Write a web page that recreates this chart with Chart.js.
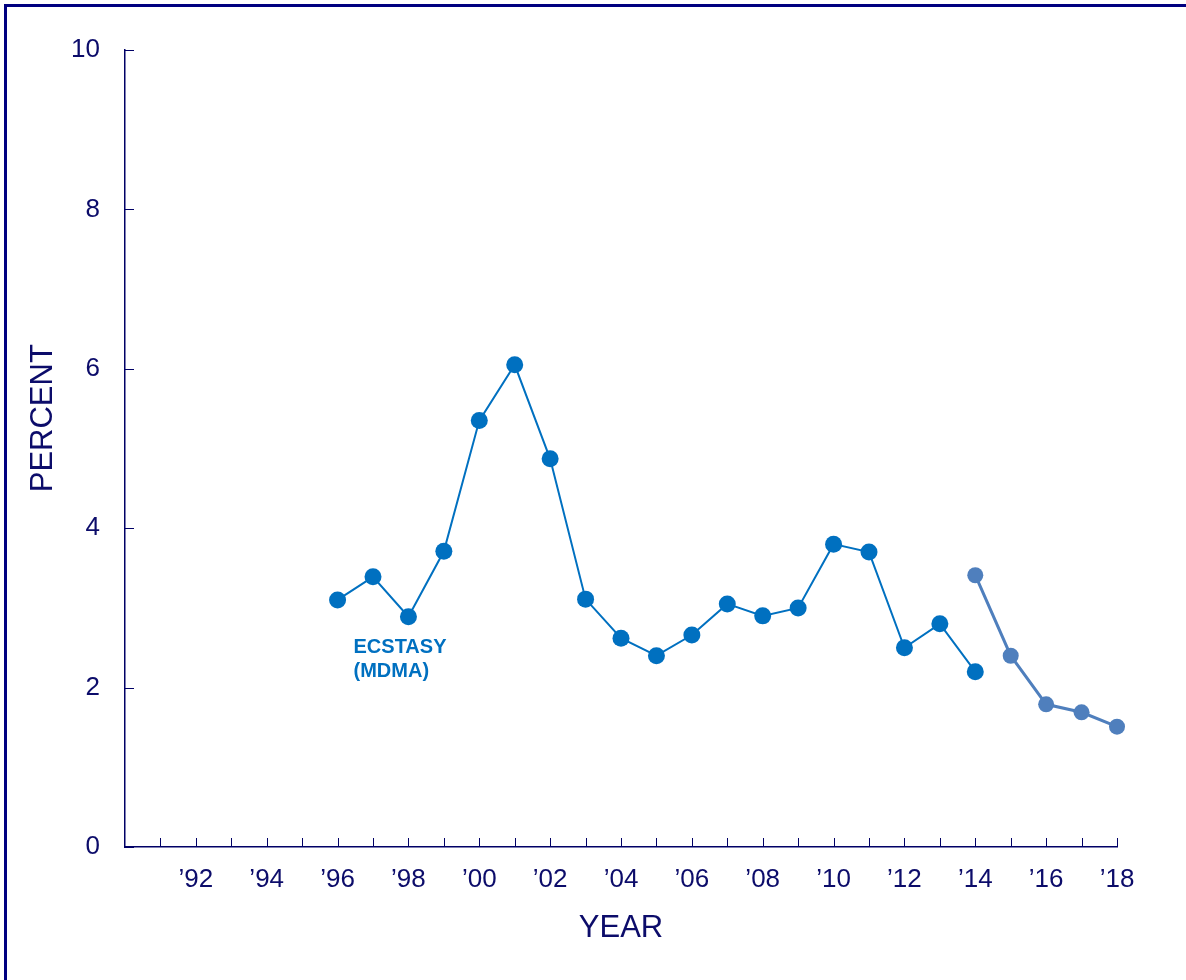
<!DOCTYPE html>
<html>
<head>
<meta charset="utf-8">
<script src="https://cdn.jsdelivr.net/npm/chart.js@4.4.0/dist/chart.umd.min.js"></script>
<style>
    html, body { margin: 0; padding: 0; background: #fff; }
    #wrap { position: relative; width: 1186px; height: 980px; overflow: hidden; }
    #frame {
        position: absolute; left: 4px; top: 4px; right: -10px; bottom: -10px;
        border-top: 3px solid #000080; border-left: 3px solid #000080;
        pointer-events: none;
    }
    canvas { position: absolute; left: 0; top: 0; }
</style>
</head>
<body>
<div id="wrap">
    <canvas id="chart" width="1186" height="980"></canvas>
    <div id="frame"></div>
</div>
<script>
// 数据
const years1 = [1996, 1997, 1998, 1999, 2000, 2001, 2002, 2003, 2004, 2005, 2006, 2007, 2008, 2009, 2010, 2011, 2012, 2013, 2014];
const ecstasy1 = [3.10, 3.39, 2.89, 3.71, 5.35, 6.05, 4.87, 3.11, 2.62, 2.40, 2.66, 3.05, 2.90, 3.00, 3.80, 3.70, 2.50, 2.80, 2.20];
const years2 = [2014, 2015, 2016, 2017, 2018];
const ecstasy2 = [3.41, 2.40, 1.79, 1.69, 1.51];
const yTicks = [0, 2, 4, 6, 8, 10];
const xLabelYears = [1992, 1994, 1996, 1998, 2000, 2002, 2004, 2006, 2008, 2010, 2012, 2014, 2016, 2018];
const seriesLabel = ['ECSTASY', '(MDMA)'];
const yTitle = 'PERCENT';

const navy = '#0c0c6a';
const axisColor = '#000066';
const fontFamily = '"Liberation Sans", Arial, Helvetica, sans-serif';

// 向内的刻度线 + 图中文字
const innerTicks = {
    id: 'innerTicks',
    afterDraw(chart) {
        const { ctx, scales: { x, y } } = chart;
        ctx.save();
        ctx.strokeStyle = axisColor;
        ctx.lineWidth = 1;
        ctx.beginPath();
        for (let yr = 1991; yr <= 2018; yr++) {
            const px = Math.round(x.getPixelForValue(yr)) + 0.5;
            ctx.moveTo(px, y.bottom);
            ctx.lineTo(px, y.bottom - 9);
        }
        yTicks.forEach(v => {
            const py = Math.round(y.getPixelForValue(v)) + 0.5;
            ctx.moveTo(x.left, py);
            ctx.lineTo(x.left + 9, py);
        });
        ctx.stroke();

        // 系列标签
        ctx.fillStyle = '#0070c0';
        ctx.font = 'bold 20px ' + fontFamily;
        ctx.textAlign = 'left';
        ctx.textBaseline = 'alphabetic';
        const lx = x.getPixelForValue(1996.45);
        ctx.fillText(seriesLabel[0], lx, y.getPixelForValue(2.43));
        ctx.fillText(seriesLabel[1], lx, y.getPixelForValue(2.13));

        // 纵轴标题
        ctx.fillStyle = navy;
        ctx.font = '31px ' + fontFamily;
        ctx.textAlign = 'center';
        ctx.textBaseline = 'middle';
        ctx.translate(43, y.getPixelForValue(5.38));
        ctx.rotate(-Math.PI / 2);
        ctx.fillText(yTitle, 0, 0);
        ctx.restore();
    }
};

const toPoints = (xs, ys) => xs.map((v, i) => ({ x: v, y: ys[i] }));

new Chart(document.getElementById('chart'), {
    type: 'line',
    data: {
        datasets: [{
            data: toPoints(years1, ecstasy1),
            borderColor: '#0070c0',
            backgroundColor: '#0070c0',
            borderWidth: 2,
            pointRadius: 8.5,
            pointBorderWidth: 0,
            tension: 0
        }, {
            data: toPoints(years2, ecstasy2),
            borderColor: '#4f7fbd',
            backgroundColor: '#4f7fbd',
            borderWidth: 3,
            pointRadius: 8,
            pointBorderWidth: 0,
            tension: 0
        }]
    },
    options: {
        responsive: false,
        animation: false,
        clip: false,
        layout: { padding: { left: 0, top: 50, right: 69, bottom: 0 } },
        plugins: {
            legend: { display: false },
            tooltip: { enabled: false }
        },
        scales: {
            x: {
                type: 'linear',
                min: 1990,
                max: 2018,
                afterFit: scale => { scale.height = 133; },
                afterBuildTicks: scale => {
                    scale.ticks = xLabelYears.map(v => ({ value: v }));
                },
                ticks: {
                    autoSkip: false,
                    maxRotation: 0,
                    padding: 17,
                    color: navy,
                    font: { family: fontFamily, size: 26 },
                    callback: v => '\u2019' + String(v).slice(2)
                },
                grid: { display: false, drawTicks: false },
                border: { display: true, color: axisColor, width: 1.5 },
                title: {
                    display: true,
                    text: 'YEAR',
                    color: navy,
                    font: { family: fontFamily, size: 31 },
                    padding: { top: 0, bottom: 33 }
                }
            },
            y: {
                min: 0,
                max: 10,
                afterFit: scale => { scale.width = 125; },
                afterBuildTicks: scale => {
                    scale.ticks = yTicks.map(v => ({ value: v }));
                },
                ticks: {
                    padding: 25,
                    color: navy,
                    font: { family: fontFamily, size: 26 }
                },
                grid: { display: false, drawTicks: false },
                border: { display: true, color: axisColor, width: 1.5 },
                title: { display: false }
            }
        }
    },
    plugins: [innerTicks]
});
</script>
</body>
</html>
